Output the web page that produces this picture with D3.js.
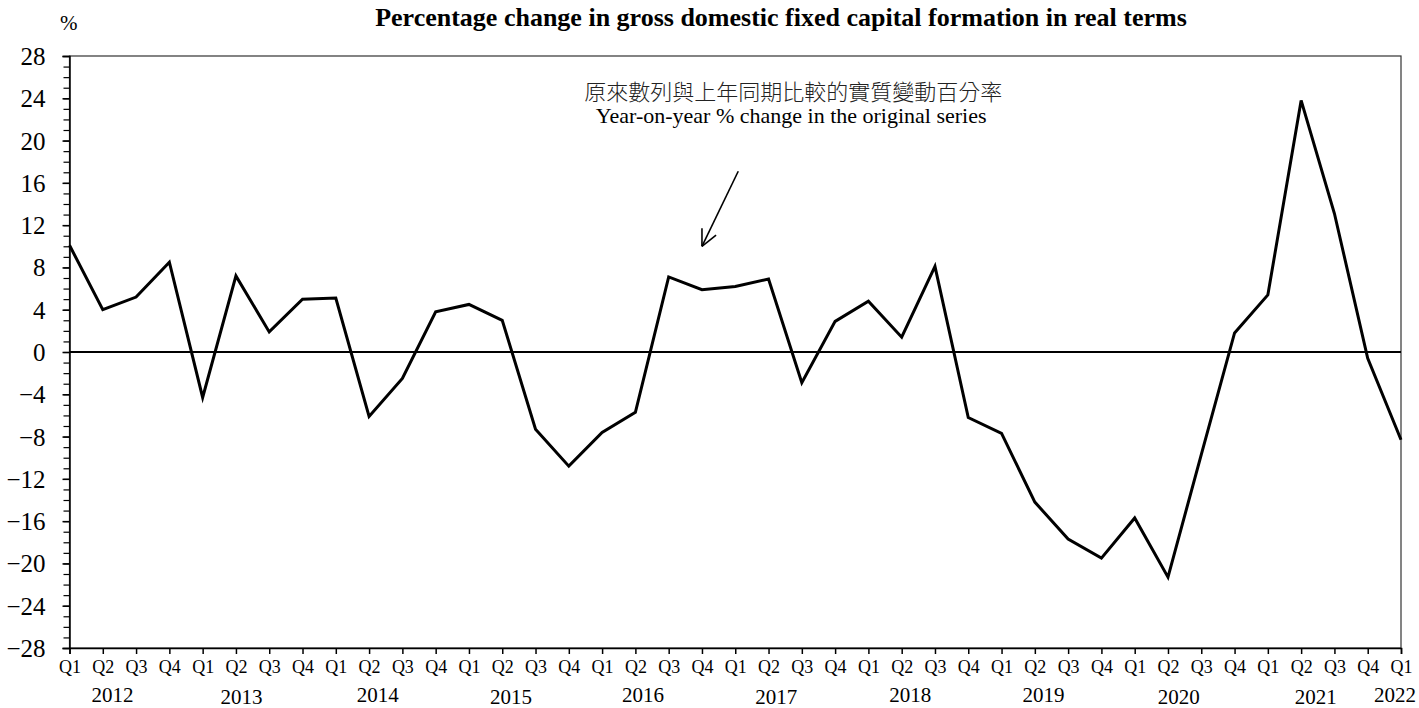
<!DOCTYPE html>
<html lang="en">
<head>
    <meta charset="UTF-8">
    <title>Gross domestic fixed capital formation</title>
    <script src="https://d3js.org/d3.v7.min.js"></script>
    <style>
        body {
            margin: 0;
            background: #fff;
            overflow: hidden;
            font-family: "Liberation Serif", "Times New Roman", serif;
        }
        svg {
            display: block;
        }
        .series {
            fill: none;
            stroke: #000;
            stroke-width: 3px;
            stroke-linejoin: miter;
        }
    </style>
</head>
<body>
    <div id="chart"></div>

    <script>
        const serif = "'Liberation Serif', 'Times New Roman', serif";

        const years = ["2012", "2013", "2014", "2015", "2016", "2017", "2018", "2019", "2020", "2021", "2022"];
        const quarters = ["Q1", "Q2", "Q3", "Q4"];
        const periods = [];
        years.forEach(y => quarters.forEach(q => {
            if (periods.length < 41) periods.push(y + " " + q);
        }));

        // year-on-year % change, Q1 2012 .. Q1 2022
        const values = [
            10.1, 4.0, 5.2, 8.5,
            -4.3, 7.2, 1.9, 5.0,
            5.1, -6.1, -2.5, 3.8,
            4.5, 3.0, -7.3, -10.8,
            -7.6, -5.7, 7.1, 5.9,
            6.2, 6.9, -2.9, 2.9,
            4.8, 1.4, 8.1, -6.2,
            -7.7, -14.2, -17.7, -19.5,
            -15.7, -21.3, -9.7, 1.8,
            5.4, 23.8, 13.1, -0.6,
            -8.3
        ];
        const yTicks = [28, 24, 20, 16, 12, 8, 4, 0, -4, -8, -12, -16, -20, -24, -28];

        const width = 1419, height = 708;
        const margin = { top: 56, right: 18, bottom: 60, left: 69.5 };

        const svg = d3.select("#chart").append("svg")
            .attr("width", width)
            .attr("height", height);

        const x = d3.scalePoint()
            .domain(periods)
            .range([margin.left, width - margin.right]);

        const y = d3.scaleLinear()
            .domain([-28, 28])
            .range([height - margin.bottom, margin.top]);

        // frame
        svg.append("rect")
            .attr("x", x.range()[0])
            .attr("y", y(28))
            .attr("width", x.range()[1] - x.range()[0])
            .attr("height", y(-28) - y(28))
            .attr("fill", "none")
            .attr("stroke", "#333")
            .attr("stroke-width", 1.2);

        // y axis minor ticks
        svg.append("g")
            .attr("transform", `translate(${x.range()[0]},0)`)
            .call(d3.axisLeft(y).tickValues(d3.range(-28, 29, 1)).tickSize(6).tickFormat(""))
            .call(g => g.select(".domain").remove())
            .call(g => g.selectAll("line").attr("stroke", "#000").attr("stroke-width", 1.2));

        // y axis major ticks + labels
        svg.append("g")
            .attr("transform", `translate(${x.range()[0]},0)`)
            .call(d3.axisLeft(y).tickValues(yTicks).tickSize(7).tickPadding(17))
            .attr("font-family", serif)
            .attr("font-size", 25)
            .call(g => g.select(".domain").attr("stroke", "#000").attr("stroke-width", 1.5))
            .call(g => g.selectAll("line").attr("stroke", "#000").attr("stroke-width", 1.5))
            .call(g => g.selectAll("text")
                .attr("fill", "#000")
                .attr("dy", "0.34em"));

        // x axis
        svg.append("g")
            .attr("transform", `translate(0,${y(-28)})`)
            .call(d3.axisBottom(x).tickSize(6).tickPadding(6).tickFormat(d => d.split(" ")[1]))
            .attr("font-family", serif)
            .attr("font-size", 18)
            .call(g => g.select(".domain").attr("stroke", "#000").attr("stroke-width", 1.5))
            .call(g => g.selectAll("line").attr("stroke", "#000").attr("stroke-width", 1.5))
            .call(g => g.selectAll("text").attr("fill", "#000"));

        // year labels
        const yearOffset = [-7, -11, -8, -8, -9, -9, -8, -8, -6, -2, -6];
        const yearDrop = [0, 2, 0, 2, 0, 2, 0, 0, 2, 2, 0];
        svg.append("g").selectAll("text")
            .data(years)
            .join("text")
            .attr("x", (d, i) => {
                const pos = i < years.length - 1
                    ? (x(d + " Q2") + x(d + " Q3")) / 2
                    : x(d + " Q1");
                return pos + yearOffset[i];
            })
            .attr("y", (d, i) => 702 + yearDrop[i])
            .attr("text-anchor", "middle")
            .attr("font-family", serif)
            .attr("font-size", "21px")
            .text(d => d);

        // zero line
        svg.append("line")
            .attr("x1", x.range()[0])
            .attr("x2", x.range()[1])
            .attr("y1", y(0))
            .attr("y2", y(0))
            .attr("stroke", "#000")
            .attr("stroke-width", 2);

        // series
        const line = d3.line()
            .x((d, i) => x(periods[i]))
            .y(d => y(d));

        svg.append("path")
            .datum(values)
            .attr("class", "series")
            .attr("d", line);

        // unit label and title
        svg.append("text")
            .attr("x", 60)
            .attr("y", 30)
            .attr("font-family", serif)
            .attr("font-size", "21px")
            .text("%");

        svg.append("text")
            .attr("x", 781)
            .attr("y", 26)
            .attr("text-anchor", "middle")
            .attr("font-family", serif)
            .attr("font-size", "26px")
            .attr("font-weight", "bold")
            .text("Percentage change in gross domestic fixed capital formation in real terms");

        // annotation
        const noteX = (x(periods[21]) + x(periods[22])) / 2 + 6;
        svg.append("text")
            .attr("x", noteX + 2)
            .attr("y", 100)
            .attr("text-anchor", "middle")
            .attr("font-family", "'Noto Sans CJK TC', 'Noto Sans CJK SC', sans-serif")
            .attr("font-size", "22px")
            .attr("font-weight", 300)
            .attr("fill", "#222")
            .text("原來數列與上年同期比較的實質變動百分率");

        svg.append("text")
            .attr("x", noteX)
            .attr("y", 123)
            .attr("text-anchor", "middle")
            .attr("font-family", serif)
            .attr("font-size", "22px")
            .text("Year-on-year % change in the original series");

        const tip = [x(periods[19]), y(10)];
        const tail = [x(periods[20]) + 3, y(17.1)];
        svg.append("line")
            .attr("x1", tail[0]).attr("y1", tail[1])
            .attr("x2", tip[0]).attr("y2", tip[1])
            .attr("stroke", "#000").attr("stroke-width", 1.6);

        const ang = Math.atan2(tip[1] - tail[1], tip[0] - tail[0]);
        const headLen = 18, spread = 0.45;
        [ang + spread, ang - spread].forEach(a => {
            svg.append("line")
                .attr("x1", tip[0]).attr("y1", tip[1])
                .attr("x2", tip[0] - headLen * Math.cos(a))
                .attr("y2", tip[1] - headLen * Math.sin(a))
                .attr("stroke", "#000").attr("stroke-width", 1.6);
        });
    </script>
</body>
</html>
